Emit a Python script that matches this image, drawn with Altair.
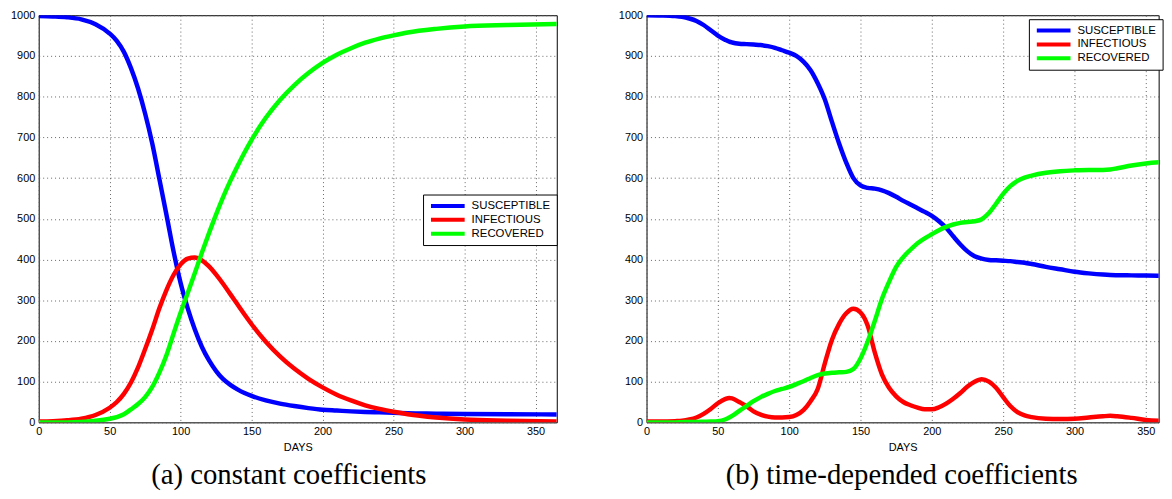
import altair as alt
import pandas as pd

SERIES = ["SUSCEPTIBLE", "INFECTIOUS", "RECOVERED"]
COLORS = ["#0000ff", "#ff0000", "#00ff00"]
XTICKS = [0, 50, 100, 150, 200, 250, 300, 350]
YTICKS = [0, 100, 200, 300, 400, 500, 600, 700, 800, 900, 1000]
CAPTION_A = "(a) constant coefficients"
CAPTION_B = "(b) time-depended coefficients"

# ---- panel (a): constant coefficients ----
days_a = [0, 10, 20, 30, 40, 50, 55, 60, 65, 70, 75, 80, 85, 90, 95, 100, 105, 110,
          115, 120, 125, 130, 135, 140, 145, 150, 160, 170, 180, 190, 200, 210, 220,
          230, 240, 250, 260, 280, 300, 330, 365]
S_a = [998, 997, 995, 990, 978, 955, 937, 910, 870, 820, 758, 685, 598, 510, 420, 342,
       280, 228, 185, 152, 126, 106, 92, 81, 72, 65, 54, 46, 40, 35, 31, 29, 27, 25.5,
       24.5, 23.5, 22.5, 21.5, 20.5, 20, 19.5]
I_a = [2, 3, 5, 9, 18, 36, 50, 70, 98, 135, 180, 228, 280, 325, 362, 388, 402, 405,
       398, 383, 363, 340, 315, 290, 265, 241, 198, 162, 132, 107, 86, 68, 54, 42, 33,
       26, 20, 12, 7, 4, 2]
R_a = [0, 0, 0, 1, 4, 9, 13, 20, 32, 45, 62, 87, 122, 165, 218, 270, 318, 367, 417,
       465, 511, 554, 593, 629, 663, 694, 748, 792, 828, 858, 883, 903, 919, 932.5,
       942.5, 950.5, 957.5, 966.5, 972.5, 976, 978.5]

# ---- panel (b): time-depended coefficients ----
days_b = [0, 10, 20, 25, 30, 35, 40, 45, 50, 55, 58, 60, 65, 70, 75, 80, 85, 90, 95,
          100, 105, 110, 115, 120, 125, 130, 135, 140, 145, 150, 155, 160, 165, 170,
          175, 180, 185, 190, 195, 200, 205, 210, 215, 220, 225, 230, 235, 240, 245,
          250, 255, 260, 265, 270, 280, 290, 300, 310, 320, 325, 330, 340, 350, 365]
S_b = [1000, 999.5, 998, 996, 992, 986, 976, 963, 950, 940, 935, 933, 930, 929, 928,
       927, 924, 920, 914, 908, 900, 886, 865, 833, 793, 738, 685, 638, 600, 582, 576,
       574, 570, 563, 554, 544, 535, 526, 517, 507, 494, 478, 457, 437, 420, 408, 402,
       399, 398, 397, 396, 394, 392, 389, 382, 376, 370, 366, 363, 362, 361.5, 361,
       360.5, 360]
I_b = [2, 2, 3, 4, 7, 12, 21, 33, 47, 57, 60, 59, 50, 40, 27, 19, 14, 12, 12, 13, 18,
       30, 52, 82, 145, 203, 242, 268, 279, 270, 238, 172, 118, 85, 64, 50, 42, 36, 32,
       32, 37, 46, 58, 72, 88, 100, 106, 100, 85, 62, 40, 25, 17, 13, 9, 8, 9, 12, 15,
       16, 15, 11, 6, 3]
R_b = [0, 0, 0, 0.5, 1, 1, 1.5, 2, 3, 7, 12, 16, 28, 40, 52, 62, 70, 77, 82, 87, 94,
       101, 109, 116, 120, 122, 123, 124, 131, 157, 198, 249, 303, 345, 382, 406, 424,
       440, 452, 462, 472, 480, 486, 490, 492, 494, 499, 514, 537, 561, 580, 593, 601,
       606, 613, 617, 619, 620, 620, 621, 624, 631, 636, 640]

FONT = "Liberation Sans"
PLOT_H = 411


def panel(days, S, I, R, xmax, width, leg_x, leg_y, caption, cap_dx):
    n = len(days)
    df = pd.DataFrame({
        "day": list(days) * 3,
        "value": list(S) + list(I) + list(R),
        "series": [SERIES[0]] * n + [SERIES[1]] * n + [SERIES[2]] * n,
    })
    x = alt.X("day:Q",
              scale=alt.Scale(domain=[0, xmax], nice=False, zero=True),
              axis=alt.Axis(values=XTICKS, title="DAYS", format="d"))
    y = alt.Y("value:Q",
              scale=alt.Scale(domain=[0, 1000], nice=False),
              axis=alt.Axis(values=YTICKS, title=None, format="d"))
    color = alt.Color(
        "series:N",
        scale=alt.Scale(domain=SERIES, range=COLORS),
        legend=alt.Legend(
            title=None, orient="none", legendX=leg_x, legendY=leg_y,
            symbolType="stroke", symbolStrokeWidth=4, symbolSize=1156,
            clipHeight=11, rowPadding=2, labelOffset=5,
            labelFont=FONT, labelFontSize=11.5, labelColor="black",
            padding=6, strokeColor="black", fillColor="white",
            cornerRadius=0, labelLimit=0,
        ),
    )
    layers = []
    for s in SERIES:
        layers.append(
            alt.Chart(df)
            .transform_filter(alt.datum.series == s)
            .mark_line(strokeWidth=4.5, interpolate="monotone", clip=True)
            .encode(x=x, y=y, color=color)
        )
    return alt.layer(*layers).properties(
        width=width, height=PLOT_H,
        title=alt.TitleParams(caption, orient="bottom", anchor="middle",
                              font="Liberation Serif", fontSize=29,
                              fontWeight="normal", color="black",
                              offset=9, dx=cap_dx, frame="bounds"),
    )


left = panel(days_a, S_a, I_a, R_a, 365, 523, 388, 181, CAPTION_A, 5)
right = panel(days_b, S_b, I_b, R_b, 359, 517, 386, 4, CAPTION_B, 11)

chart = (
    alt.hconcat(left, right, spacing=90.6, bounds="flush")
    .resolve_scale(color="independent")
    .properties(padding={"left": 2, "top": -2, "right": 0, "bottom": -1}, background="white")
    .configure_view(stroke="black", strokeWidth=1)
    .configure_axis(
        labelFont=FONT, labelFontSize=11, labelColor="black", labelFlush=False,
        titleFont=FONT, titleFontSize=11, titleFontWeight="normal", titleColor="black",
        ticks=False, tickSize=0, domain=False, labelPadding=4,
        grid=True, gridColor="#555555", gridDash=[1, 3], gridWidth=1, gridOpacity=0.9,
    )
    .configure_axisX(labelPadding=3, titlePadding=5)
)

chart.save("out.html", embed_options={"renderer": "svg", "actions": False})
